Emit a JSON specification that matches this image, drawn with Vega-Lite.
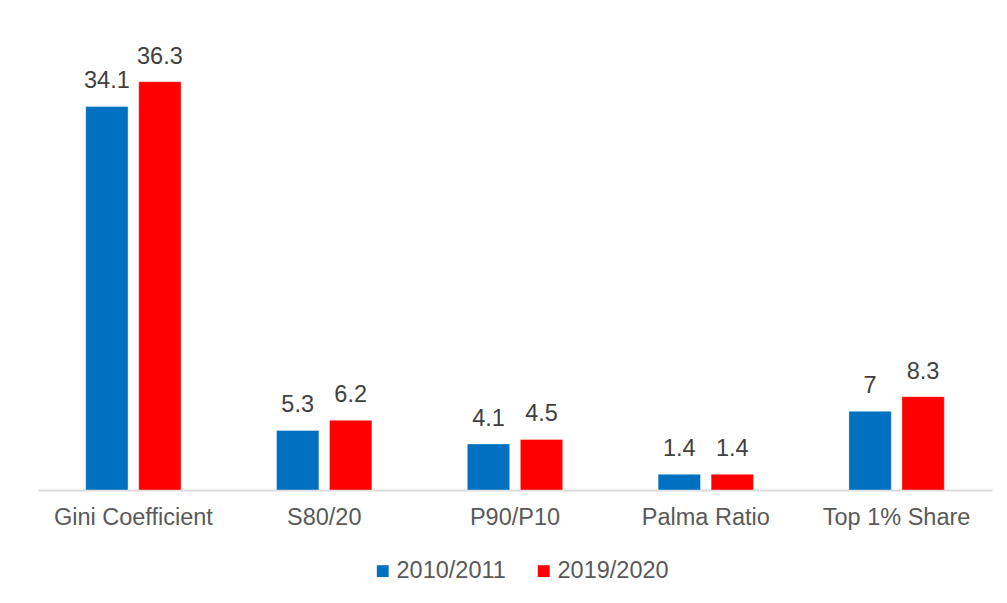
{
  "$schema": "https://vega.github.io/schema/vega-lite/v6.json",
  "width": 954,
  "height": 450,
  "autosize": "none",
  "padding": {"left": 38, "top": 40, "right": 15, "bottom": 113},
  "background": "white",
  "config": {
    "view": {"stroke": null},
    "font": "Liberation Sans",
    "text": {"font": "Liberation Sans"}
  },
  "data": {
    "values": [
      {"measure": "Gini Coefficient", "period": "2010/2011", "value": 34.1},
      {"measure": "Gini Coefficient", "period": "2019/2020", "value": 36.3},
      {"measure": "S80/20", "period": "2010/2011", "value": 5.3},
      {"measure": "S80/20", "period": "2019/2020", "value": 6.2},
      {"measure": "P90/P10", "period": "2010/2011", "value": 4.1},
      {"measure": "P90/P10", "period": "2019/2020", "value": 4.5},
      {"measure": "Palma Ratio", "period": "2010/2011", "value": 1.4},
      {"measure": "Palma Ratio", "period": "2019/2020", "value": 1.4},
      {"measure": "Top 1% Share", "period": "2010/2011", "value": 7},
      {"measure": "Top 1% Share", "period": "2019/2020", "value": 8.3}
    ]
  },
  "encoding": {
    "x": {
      "field": "measure",
      "type": "nominal",
      "sort": null,
      "scale": {"paddingInner": 0.5, "paddingOuter": 0.25},
      "axis": {
        "title": null,
        "labelAngle": 0,
        "labelFontSize": 23.5,
        "labelColor": "#595959",
        "labelFont": "Liberation Sans",
        "labelPadding": 15,
        "ticks": false,
        "domainColor": "#d9d9d9",
        "domainWidth": 2
      }
    },
    "xOffset": {
      "field": "period",
      "type": "nominal",
      "scale": {"paddingInner": 0.2, "paddingOuter": 0}
    },
    "y": {
      "field": "value",
      "type": "quantitative",
      "scale": {"domain": [0, 40], "nice": false},
      "axis": null
    }
  },
  "layer": [
    {
      "mark": {"type": "bar", "stroke": "white", "strokeOpacity": 0.4, "strokeWidth": 1},
      "encoding": {
        "color": {
          "field": "period",
          "type": "nominal",
          "scale": {"domain": ["2010/2011", "2019/2020"], "range": ["#0070C0", "#FF0000"]},
          "legend": {
            "title": null,
            "orient": "none",
            "legendX": 333,
            "legendY": 519,
            "direction": "horizontal",
            "symbolType": "square",
            "symbolSize": 140,
            "symbolStrokeWidth": 0,
            "labelFontSize": 23.5,
            "labelColor": "#595959",
            "labelFont": "Liberation Sans",
            "columnPadding": 26,
            "labelOffset": 2
          }
        }
      }
    },
    {
      "mark": {"type": "text", "baseline": "alphabetic", "dy": -18, "fontSize": 23.5, "color": "#404040", "font": "Liberation Sans"},
      "encoding": {"text": {"field": "value", "type": "quantitative"}}
    }
  ]
}
